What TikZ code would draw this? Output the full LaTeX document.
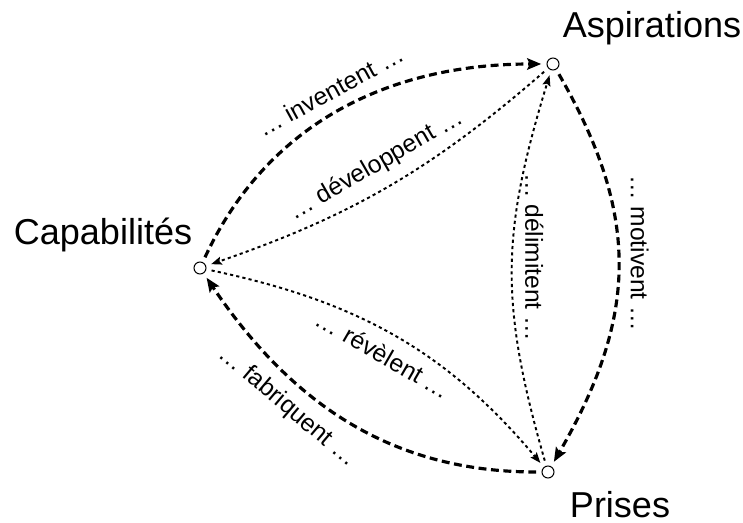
\documentclass[tikz,border=0pt]{standalone}
\usepackage{fontspec}
\setmainfont{Liberation Sans}
\usetikzlibrary{arrows.meta}

\begin{document}
\begin{tikzpicture}[x=0.02cm, y=0.02cm,
    pole/.style={circle, draw, line width=0.6pt, fill=white, minimum size=0.24cm, inner sep=0pt},
    title/.style={font=\fontsize{20.5}{24}\selectfont, anchor=base, inner sep=0pt},
    strong/.style={line width=1.8pt, dash pattern=on 4.5pt off 2.6pt,
        -{Stealth[length=8pt,width=6.5pt,inset=1.5pt]}, shorten >=3pt, shorten <=3pt},
    weak/.style={line width=1.1pt, dash pattern=on 1.8pt off 1.8pt,
        -{Stealth[length=6pt,width=4.5pt,inset=1pt]}, shorten >=3pt, shorten <=3pt},
    verb/.style={font=\fontsize{14}{16}\selectfont, inner sep=6.5pt}
    ]

    \useasboundingbox (0,0) rectangle (743,-523);

    % the three poles
    \node[pole] (asp) at (553,-64) {};
    \node[pole] (cap) at (200,-268) {};
    \node[pole] (pri) at (548,-472) {};

    \node[title] (asptext) at (652,-38) {Aspirations};
    \node[title] (captext) at (103,-245) {Capabilités};
    \node[title] (pritext) at (620,-517) {Prises};

    % outer cycle
    \draw[strong] (cap) to[out=65, in=180]
        node[verb, sloped, above, pos=0.5] {… inventent …} (asp);
    \draw[strong] (asp) to[out=-60, in=60, looseness=1.1]
        node[verb, rotate=-90, anchor=south, pos=0.46] {… motivent …} (pri);
    \draw[strong] (pri) to[out=180, in=-56]
        node[verb, sloped, below, pos=0.64] {… fabriquent …} (cap);

    % inner links
    \draw[weak] (asp) to[bend left=11]
        node[verb, sloped, above, pos=0.5] {… développent …} (cap);
    \draw[weak] (pri) to[out=106, in=-107, looseness=1.1]
        node[verb, rotate=-90, anchor=south, pos=0.53] {… délimitent …} (asp);
    \draw[weak] (cap) to[out=-12, in=130]
        node[verb, sloped, below, pos=0.5] {… révèlent …} (pri);

\end{tikzpicture}
\end{document}
